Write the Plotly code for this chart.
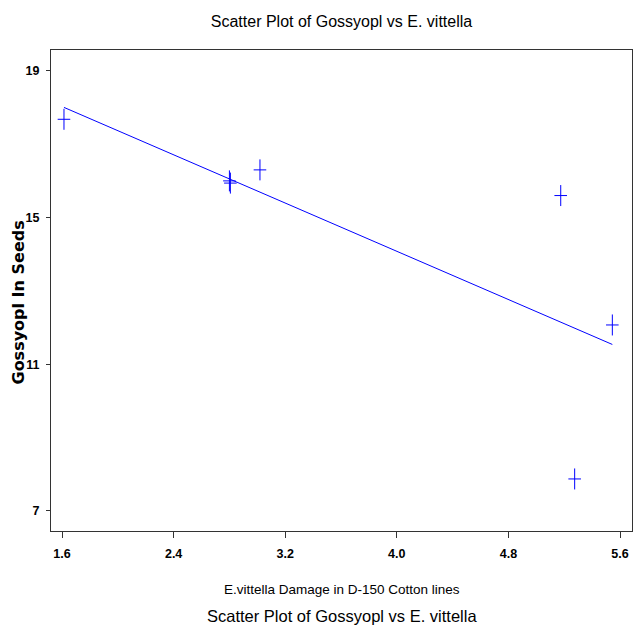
import numpy as np
import plotly.graph_objects as go

# Data
damage = [1.614, 2.800, 2.807, 3.019, 5.175, 5.545, 5.275]
gossypol = [17.68, 16.00, 15.94, 16.30, 15.60, 12.07, 7.87]

x_ticks = [1.6, 2.4, 3.2, 4.0, 4.8, 5.6]
x_tick_labels = ["1.6", "2.4", "3.2", "4.0", "4.8", "5.6"]
y_ticks = [7, 11, 15, 19]
y_tick_labels = ["7", "11", "15", "19"]

title_text = "Scatter Plot of Gossyopl vs E. vittella"
x_title = "E.vittella Damage in D-150 Cotton lines"
y_title = "Gossyopl In Seeds"

# Least-squares regression line from the data
slope, intercept = np.polyfit(damage, gossypol, 1)
fit_x = [min(damage), max(damage)]
fit_y = [intercept + slope * v for v in fit_x]

SANS = "Liberation Sans, Arial, sans-serif"
BLUE = "#0000ff"

FIG_W, FIG_H = 633, 630
L, R, T, B = 51, 1, 50, 99
PH = FIG_H - T - B  # plot height
PW = FIG_W - L - R  # plot width

fig = go.Figure()
fig.add_trace(go.Scatter(
    x=fit_x, y=fit_y, mode="lines",
    line=dict(color=BLUE, width=1), showlegend=False, hoverinfo="skip"))
# "+" markers: taller than they are wide, built from a vertical and a horizontal stroke
fig.add_trace(go.Scatter(
    x=damage, y=gossypol, mode="markers",
    marker=dict(symbol="line-ns", size=15, line=dict(color=BLUE, width=1)),
    showlegend=False))
fig.add_trace(go.Scatter(
    x=damage, y=gossypol, mode="markers",
    marker=dict(symbol="line-ew", size=9, line=dict(color=BLUE, width=1)),
    showlegend=False, hoverinfo="skip"))

axis_common = dict(showgrid=False, zeroline=False, showline=True, linecolor="#333333",
                   linewidth=1, mirror=True, ticks="outside", tickcolor="#333333",
                   tickfont=dict(family=SANS, size=12.5, color="black", weight="bold"))

fig.update_layout(
    width=FIG_W, height=FIG_H,
    margin=dict(l=L, r=R, t=T, b=B),
    paper_bgcolor="white", plot_bgcolor="white",
    font=dict(family=SANS, color="black"),
    title=dict(text=title_text, x=0.5, xref="paper", xanchor="center",
               y=1 - 21 / FIG_H, yref="container", yanchor="middle",
               font=dict(family=SANS, size=16, color="black")),
    xaxis=dict(range=[1.521, 5.686], tickvals=x_ticks, ticktext=x_tick_labels,
               ticklen=6, ticklabelstandoff=5, **axis_common),
    yaxis=dict(range=[6.45, 19.57], tickvals=y_ticks, ticktext=y_tick_labels,
               ticklen=4, ticklabelstandoff=4, **axis_common),
    annotations=[
        dict(text=x_title, xref="paper", yref="paper", x=0.5, y=(T + PH - 589) / PH,
             xanchor="center", yanchor="middle", showarrow=False,
             font=dict(family=SANS, size=13.5, color="black")),
        dict(text=title_text, xref="paper", yref="paper", x=0.5, y=(T + PH - 616) / PH,
             xanchor="center", yanchor="middle", showarrow=False,
             font=dict(family=SANS, size=16.5, color="black")),
        dict(text="<b>" + y_title + "</b>", xref="paper", yref="paper",
             x=(18 - L) / PW, y=(T + PH - 302.5) / PH, textangle=-90,
             xanchor="center", yanchor="middle", showarrow=False,
             font=dict(family="DejaVu Sans, Arial, sans-serif", size=16, color="black")),
    ],
)

# Remove the default page margin so the figure fills the 633x630 window exactly
fig.write_html(
    "out.html",
    config={"displayModeBar": False},
    post_script="document.body.style.margin='0';"
                "document.documentElement.style.overflow='hidden';",
)
